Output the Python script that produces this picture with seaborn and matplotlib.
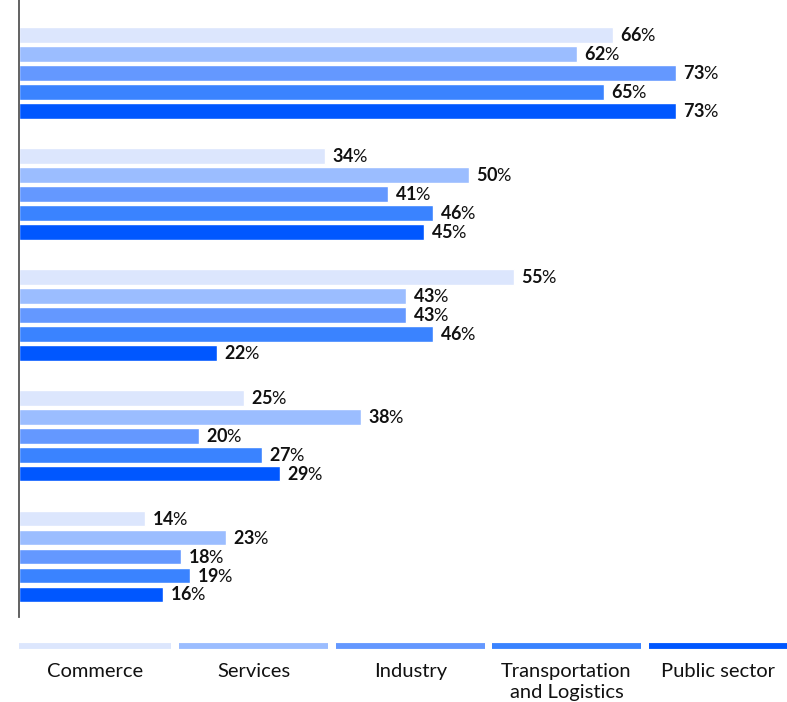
import matplotlib
matplotlib.use("Agg")
import matplotlib.pyplot as plt
import seaborn as sns
import pandas as pd

# Share of respondents per sector, five question groups
groups = ["Group 1", "Group 2", "Group 3", "Group 4", "Group 5"]
sectors = ["Commerce", "Services", "Industry", "Transportation\nand Logistics", "Public sector"]
commerce = [66, 34, 55, 25, 14]
services = [62, 50, 43, 38, 23]
industry = [73, 41, 43, 20, 18]
transport = [65, 46, 46, 27, 19]
public = [73, 45, 22, 29, 16]
colors = ["#DCE6FD", "#9BBDFF", "#6498FF", "#3A83FF", "#0057FF"]

series = [commerce, services, industry, transport, public]
rows = []
for sec, vals in zip(sectors, series):
    for g, v in zip(groups, vals):
        rows.append({"group": g, "sector": sec, "value": v})
df = pd.DataFrame(rows)

sns.set_theme(style="white")
plt.rcParams["font.family"] = ["Lato", "DejaVu Sans"]
plt.rcParams["mathtext.fontset"] = "custom"
plt.rcParams["mathtext.rm"] = "Lato"
plt.rcParams["mathtext.bf"] = "Lato:bold"

W, H = 787, 702
fig = plt.figure(figsize=(W / 100, H / 100), dpi=100)
ax = fig.add_axes([19 / W, (H - 617) / H, 1 - 19 / W, 617 / H])

sns.barplot(data=df, x="value", y="group", hue="sector", hue_order=sectors,
            order=groups, orient="h", palette=colors, width=0.785, gap=0.16,
            saturation=1, legend=False, ax=ax)

ax.set_xlim(0, (W - 19) / 9.0)
ax.set_ylim(4.5, -0.6)
ax.set_xlabel("")
ax.set_ylabel("")
ax.set_xticks([])
ax.set_yticks([])
for s in ["top", "right", "bottom"]:
    ax.spines[s].set_visible(False)
ax.spines["left"].set_color("#555555")
ax.spines["left"].set_linewidth(1.3)

# Value labels: bold number followed by a regular percent sign
for cont in ax.containers:
    labels = [f"$\\mathbf{{{int(round(b.get_width()))}}}$%" for b in cont]
    ax.bar_label(cont, labels=labels, padding=5, fontsize=13, color="#111111")

# Legend strip along the bottom
lax = fig.add_axes([0, 0, 1, (H - 617) / H])
lax.set_xlim(0, W)
lax.set_ylim(H, 617)
lax.axis("off")
segs = [(19, 171), (179, 328), (336, 485), (492, 641), (649, 787)]
for (x0, x1), c, lab in zip(segs, colors, sectors):
    lax.plot([x0, x1], [645.5, 645.5], color=c, lw=4.2, solid_capstyle="butt")
    lax.text((x0 + x1) / 2, 663, lab, ha="center", va="top", fontsize=14.5,
             color="#111111", linespacing=1.3)

fig.savefig("out.png", dpi=100)
